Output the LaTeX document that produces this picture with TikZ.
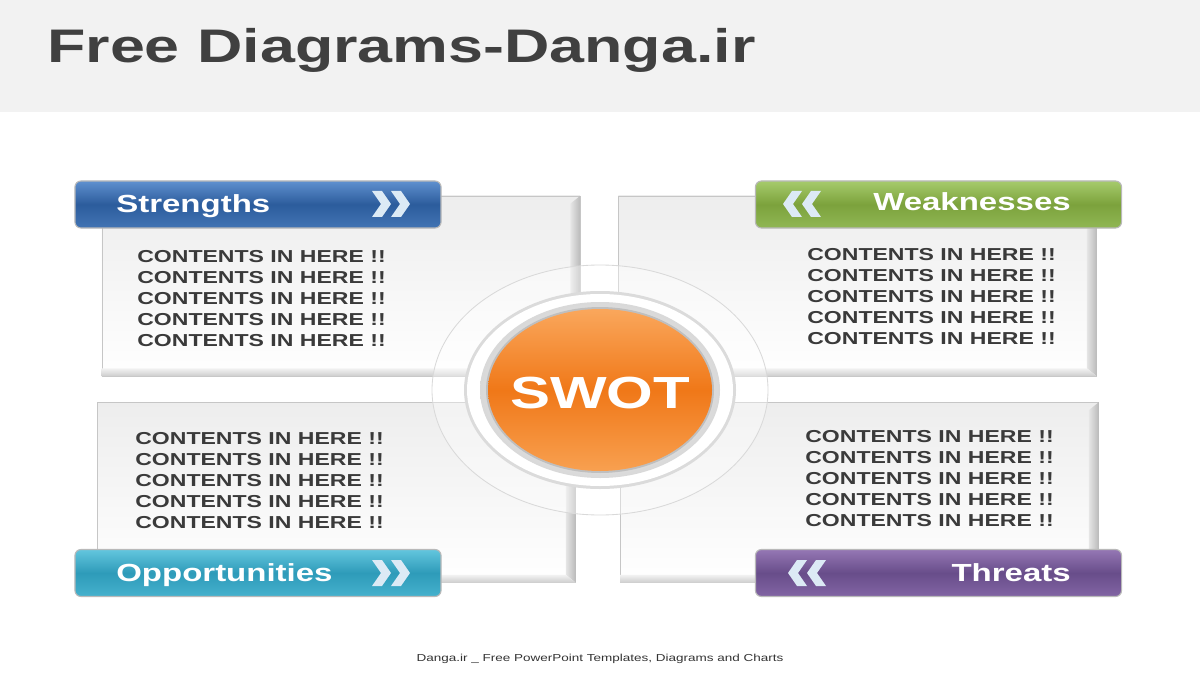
\documentclass[tikz,border=0pt]{standalone}
\usepackage{fontspec}
\setmainfont{Liberation Sans}[FakeStretch=1.333]
\usetikzlibrary{calc}
\definecolor{titlegray}{HTML}{404040}
\definecolor{textgray}{HTML}{3A3A3A}
\definecolor{bandgray}{HTML}{F2F2F2}
\definecolor{chevcol}{HTML}{DCEAF5}
\definecolor{blueT}{HTML}{5F90CF}\definecolor{blueM}{HTML}{2C5C9C}\definecolor{blueB}{HTML}{4274B4}
\definecolor{greenT}{HTML}{A6CB6C}\definecolor{greenM}{HTML}{7CA23C}\definecolor{greenB}{HTML}{90B754}
\definecolor{tealT}{HTML}{63C6DE}\definecolor{tealM}{HTML}{2E9BB9}\definecolor{tealB}{HTML}{45B1CD}
\definecolor{purpT}{HTML}{9577B4}\definecolor{purpM}{HTML}{684D8A}\definecolor{purpB}{HTML}{8264A4}
\definecolor{orangeT}{HTML}{FAA75C}\definecolor{orangeM}{HTML}{F07818}\definecolor{orangeB}{HTML}{F8A050}
\newcommand\boxlines{CONTENTS IN HERE !!\\CONTENTS IN HERE !!\\CONTENTS IN HERE !!\\CONTENTS IN HERE !!\\CONTENTS IN HERE !!}
% two chevrons, pointing right or left, from left edge #1 and middle height #2
\newcommand\chevright[2]{\foreach \d in {0,19}{\fill[chevcol] (#1+\d,#2-13) -- ++(10,0) -- ++(9,13) -- ++(-9,13) -- ++(-10,0) -- ++(9,-13) -- cycle;}}
\newcommand\chevleft[2]{\foreach \d in {0,19}{\fill[chevcol] (#1+\d+19,#2-13) -- ++(-10,0) -- ++(-9,13) -- ++(9,13) -- ++(10,0) -- ++(-9,-13) -- cycle;}}
\begin{document}
\begin{tikzpicture}[x=0.025cm, y=-0.025cm,
    bar/.style={rectangle, rounded corners=0.15cm, draw=gray!55, line width=0.8pt, minimum width=9.15cm, minimum height=1.175cm, inner sep=0pt},
    cbox/.style={rectangle, draw=gray!45, top color=gray!14, bottom color=white, minimum width=11.95cm, minimum height=4.5cm, inner sep=0pt},
    bartext/.style={text=white, font=\bfseries\fontsize{17.6}{20}\selectfont, inner sep=0pt},
    boxtext/.style={text=textgray, font=\bfseries\fontsize{12.3}{14.9}\selectfont, align=left, anchor=north west, inner sep=0pt}]
\useasboundingbox (0,0) rectangle (1200,675);
% header band and title
\fill[bandgray] (0,0) rectangle (1200,112);
\node[anchor=base west, inner sep=0pt, text=titlegray, font=\bfseries\fontsize{33.5}{36}\selectfont] (title) at (47,63) {Free Diagrams-Danga.ir};

% content boxes
\node[cbox] (sbox) at (341,286) {};
\node[cbox] (wbox) at (857.5,286) {};
\node[cbox] (obox) at (336.5,492.5) {};
\node[cbox] (tbox) at (859.5,492.5) {};
\foreach \b in {sbox,wbox,obox,tbox}{
  \shade[left color=gray!20, right color=gray!55] (\b.north east) -- (\b.south east) -- ++(-10,-8) -- ($(\b.north east)+(-10,8)$) -- cycle;
  \shade[top color=gray!10, bottom color=gray!40] (\b.south west) -- (\b.south east) -- ++(-10,-8) -- ($(\b.south west)+(0,-8)$) -- cycle;
}

% centre rings
\fill[white, opacity=0.35] (600,390) ellipse [x radius=168, y radius=125];
\draw[gray!30, line width=0.6pt] (600,390) ellipse [x radius=168, y radius=125];
\fill[gray!28] (600,390) ellipse [x radius=136, y radius=99];
\fill[white] (600,390) ellipse [x radius=133, y radius=96];
\shade[inner color=white, outer color=gray!30] (600,390) ellipse [x radius=120, y radius=88];
\fill[gray!50] (600,390) ellipse [x radius=114, y radius=83];
\shade[top color=orangeT, bottom color=orangeB, middle color=orangeM] (600,390) ellipse [x radius=112, y radius=81];
\node[anchor=base, inner sep=0pt, text=white, font=\bfseries\fontsize{32}{34}\selectfont] (swot) at (600,408) {SWOT};

% header bars
\node[bar, top color=blueT, bottom color=blueB, middle color=blueM] (sbar) at (258,204.5) {};
\node[bar, top color=greenT, bottom color=greenB, middle color=greenM] (wbar) at (938.5,204.5) {};
\node[bar, top color=tealT, bottom color=tealB, middle color=tealM] (obar) at (258,573) {};
\node[bar, top color=purpT, bottom color=purpB, middle color=purpM] (tbar) at (938.5,573) {};
\node[bartext, anchor=base west] (slabel) at (116,212) {Strengths};
\node[bartext, anchor=base east] (wlabel) at (1071,211) {Weaknesses};
\node[bartext, anchor=base west] (olabel) at (116,581) {Opportunities};
\node[bartext, anchor=base east] (tlabel) at (1071,581) {Threats};
\chevright{372}{204}
\chevleft{783}{204}
\chevright{372}{573}
\chevleft{788}{573}

% box texts
\node[boxtext] (stext) at (137,250) {\boxlines};
\node[boxtext] (wtext) at (807,248) {\boxlines};
\node[boxtext] (otext) at (135,432) {\boxlines};
\node[boxtext] (ttext) at (805,430) {\boxlines};

% footer
\node[anchor=base, inner sep=0pt, text=black!80, font=\fontsize{7.2}{9}\selectfont] (footer) at (600,661) {Danga.ir \_ Free PowerPoint Templates, Diagrams and Charts};
\end{tikzpicture}
\end{document}
